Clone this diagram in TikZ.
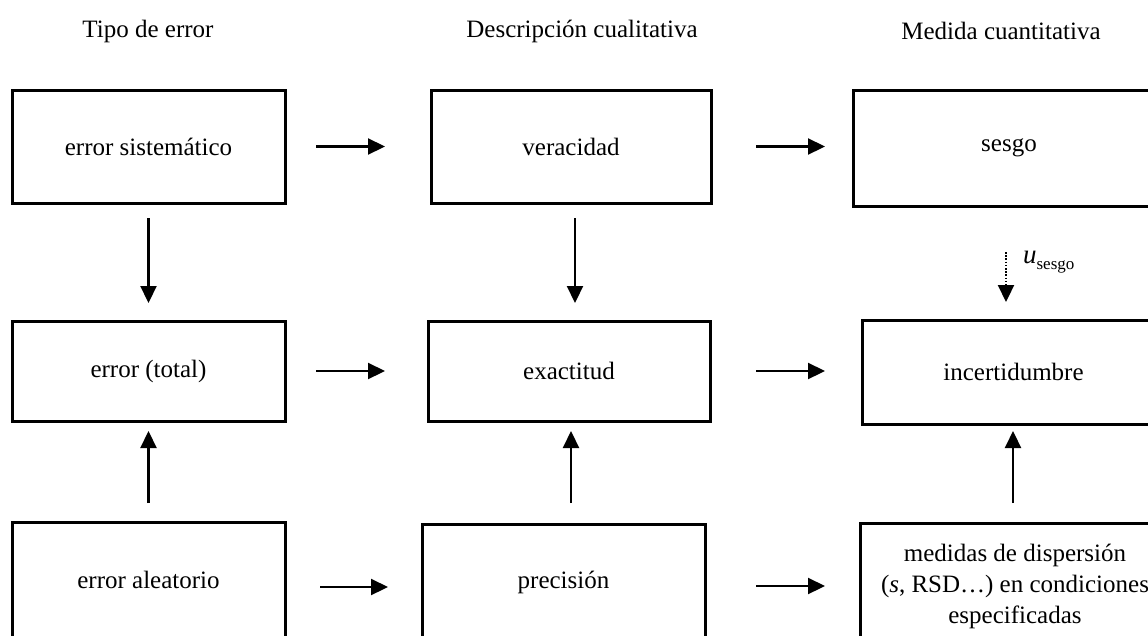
\documentclass[tikz,border=0pt]{standalone}
\usepackage{fontspec}
\setmainfont{Liberation Serif}
\usetikzlibrary{arrows.meta}
\begin{document}
\begin{tikzpicture}[x=1pt,y=-1pt,
  box/.style={draw, line width=3pt, rectangle, inner sep=0pt, align=center,
    font=\fontsize{25}{31}\selectfont},
  hdr/.style={font=\fontsize{25}{30}\selectfont},
  arr/.style={line width=2.2pt, -{Triangle[length=17pt,width=16pt]}},
  dotarr/.style={line width=2.2pt, dash pattern=on 1.6pt off 1.6pt, -{Triangle[length=17pt,width=16pt]}},
]
\useasboundingbox (0,0) rectangle (1148,635);
\clip (0,0) rectangle (1148,635);

% headers
\node[hdr] (H1) at (148,31) {Tipo de error};
\node[hdr] (H2) at (582,31) {Descripción cualitativa};
\node[hdr] (H3) at (1001,31) {Medida cuantitativa};

% row 1
\node[box, minimum width=273pt, minimum height=113pt] (A1) at (148.5,146.5) {error sistemático};
\node[box, minimum width=280pt, minimum height=113pt] (B1) at (571,146.5) {veracidad};
\node[box, minimum width=312pt, minimum height=116pt] (C1) at (1009,148) {sesgo};
% row 2
\node[box, minimum width=273pt, minimum height=100pt] (A2) at (148.5,371) {error (total)};
\node[box, minimum width=282pt, minimum height=100pt] (B2) at (569,371) {exactitud};
\node[box, minimum width=303pt, minimum height=104pt] (C2) at (1013.5,372) {incertidumbre};
% row 3
\node[box, minimum width=273pt, minimum height=116pt] (A3) at (148.5,580) {error aleatorio};
\node[box, minimum width=283pt, minimum height=116pt] (B3) at (563.5,582) {precisión};
\node[box, minimum width=310pt, minimum height=127pt] (C3) at (1015,586.5)
  {medidas de dispersión\\(\textit{s}, RSD…) en condiciones\\especificadas};

% horizontal arrows
\draw[arr, shorten <=29.5pt, shorten >=44.5pt] (A1.east) -- (A1.east -| B1.west);
\draw[arr, shorten <=43.5pt, shorten >=26.5pt] (B1.east) -- (B1.east -| C1.west);
\draw[arr, shorten <=29.5pt, shorten >=41.5pt] (A2.east) -- (A2.east -| B2.west);
\draw[arr, shorten <=44.5pt, shorten >=35.5pt] (B2.east) -- (B2.east -| C2.west);
\coordinate (r3a) at ([yshift=-7pt]A3.east);
\draw[arr, shorten <=33.5pt, shorten >=32.5pt] (r3a) -- (r3a -| B3.west);
\coordinate (r3b) at ([yshift=-4pt]B3.east);
\draw[arr, shorten <=49.5pt, shorten >=33.5pt] (r3b) -- (r3b -| C3.west);

% vertical arrows
\draw[arr, shorten <=13.5pt, shorten >=16.5pt] (A1.south) -- (A1.south |- A2.north);
\coordinate (v2) at ([xshift=4pt]B1.south);
\draw[arr, shorten <=13.5pt, shorten >=16.5pt] (v2) -- (v2 |- B2.north);
\coordinate (v3) at ([xshift=-3pt]C1.south);
\draw[dotarr, shorten <=44.5pt, shorten >=16.5pt] (v3) -- node[pos=0.49, anchor=west, xshift=16pt, inner sep=0pt]
  {{\fontsize{27}{30}\selectfont\itshape u}{\fontsize{17}{17}\selectfont\raisebox{-6pt}{sesgo}}} (v3 |- C2.north);
\draw[arr, shorten <=17.5pt, shorten >=8.5pt] (A3.north) -- (A3.north |- A2.south);
\coordinate (v5) at ([xshift=7.5pt]B3.north);
\draw[arr, shorten <=19.5pt, shorten >=8.5pt] (v5) -- (v5 |- B2.south);
\coordinate (v6) at ([xshift=-2pt]C3.north);
\draw[arr, shorten <=18.5pt, shorten >=5.5pt] (v6) -- (v6 |- C2.south);
\end{tikzpicture}
\end{document}
